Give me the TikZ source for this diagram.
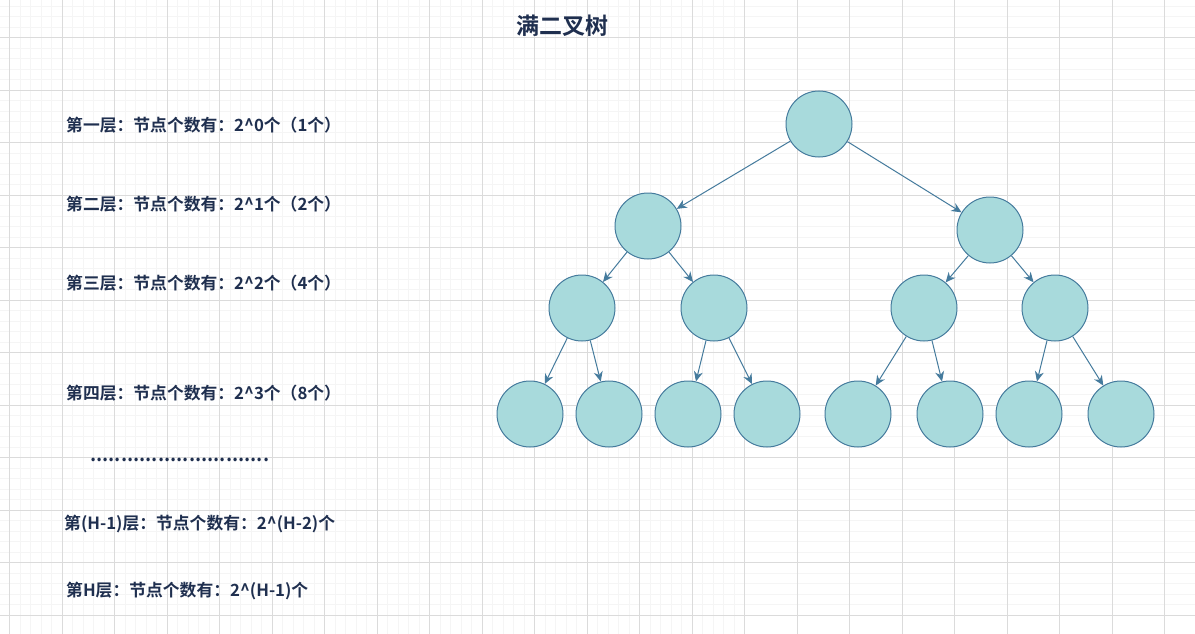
\documentclass[tikz,border=0pt]{standalone}
\usepackage{fontspec}
\newfontfamily\cjk{Noto Sans CJK SC}[BoldFont={Noto Sans CJK SC Bold}]
\usetikzlibrary{arrows.meta}
\definecolor{txt}{HTML}{1F2F4F}
\definecolor{fillc}{HTML}{A8DADC}
\definecolor{strokec}{HTML}{457B9D}
\begin{document}
\begin{tikzpicture}[x=1pt,y=-1pt,
  nd/.style={circle,draw=strokec,fill=fillc,line width=1pt,minimum size=66pt,inner sep=0pt},
  ed/.style={draw=strokec,line width=1pt,-{Stealth[length=10pt,width=9pt]}},
  lbl/.style={anchor=west,text=txt,font=\cjk\bfseries\fontsize{16.8}{19}\selectfont,inner sep=0pt}]
\useasboundingbox (0,0) rectangle (1195,634);
\fill[white] (0,0) rectangle (1195,634);
\foreach \i in {0,...,120} {\draw[gray!8,line width=0.4pt] ({9.3+\i*10.5-525},0) -- ++(0,634);}
\foreach \i in {0,...,65} {\draw[gray!8,line width=0.4pt] (0,{37.5+\i*10.5-105}) -- ++(1195,0);}
\foreach \i in {0,...,23} {\draw[gray!28,line width=0.5pt] ({9.3+\i*52.5},0) -- ++(0,634);}
\foreach \i in {-1,...,12} {\draw[gray!28,line width=0.5pt] (0,{37.5+\i*52.5}) -- ++(1195,0);}
\node[text=txt,font=\cjk\bfseries\fontsize{23}{26}\selectfont] (title) at (562,26) {满二叉树};
\node[lbl] (t1) at (66,125) {第一层：节点个数有：2\^{}0个（1个）};
\node[lbl] (t2) at (66,204) {第二层：节点个数有：2\^{}1个（2个）};
\node[lbl] (t3) at (66,283) {第三层：节点个数有：2\^{}2个（4个）};
\node[lbl] (t4) at (66,393) {第四层：节点个数有：2\^{}3个（8个）};
\node[lbl,font=\cjk\bfseries\fontsize{19}{20}\selectfont] (dots) at (90,460) {.............................};
\node[lbl] (t5) at (64,524) {第(H-1)层：节点个数有：2\^{}(H-2)个};
\node[lbl] (t6) at (66,591) {第H层：节点个数有：2\^{}(H-1)个};
\node[nd] (r) at (819,124) {};
\node[nd] (a) at (648,226) {};
\node[nd] (b) at (990,230) {};
\node[nd] (a1) at (582,308) {};
\node[nd] (a2) at (714,308) {};
\node[nd] (b1) at (924,308) {};
\node[nd] (b2) at (1055,308) {};
\foreach \n/\x in {c1/530,c2/609,c3/688,c4/767,c5/858,c6/950,c7/1029,c8/1121}
  \node[nd] (\n) at (\x,414) {};
\draw[ed] (r) -- (a); \draw[ed] (r) -- (b);
\draw[ed] (a) -- (a1); \draw[ed] (a) -- (a2);
\draw[ed] (b) -- (b1); \draw[ed] (b) -- (b2);
\draw[ed] (a1) -- (c1); \draw[ed] (a1) -- (c2);
\draw[ed] (a2) -- (c3); \draw[ed] (a2) -- (c4);
\draw[ed] (b1) -- (c5); \draw[ed] (b1) -- (c6);
\draw[ed] (b2) -- (c7); \draw[ed] (b2) -- (c8);
\end{tikzpicture}
\end{document}
